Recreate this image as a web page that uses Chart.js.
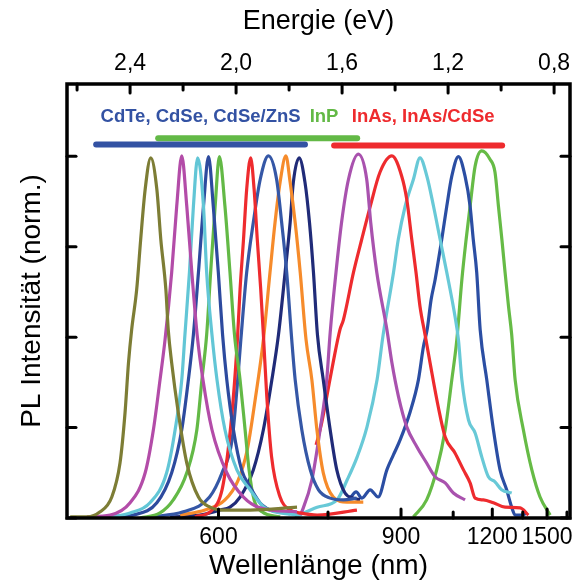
<!DOCTYPE html>
<html>
<head>
<meta charset="utf-8">
<script src="https://cdn.jsdelivr.net/npm/chart.js@4.4.1/dist/chart.umd.min.js"></script>
<style>
  html, body { margin: 0; padding: 0; background: #fff; }
  canvas { display: block; }
</style>
</head>
<body>
<canvas id="plChart" width="576" height="583"></canvas>
<script>
// hc in eV*nm, used to put wavelength ticks on the energy axis
const HC = 1239.84;

// axis ticks
const nmTicks = [600, 750, 900, 1050, 1200, 1350, 1500, 1650];
const nmLabels = [600, 900, 1200, 1500];
const evTicks = [2.6, 2.4, 2.2, 2.0, 1.8, 1.6, 1.4, 1.2, 1.0, 0.8];
const evLabels = [2.4, 2.0, 1.6, 1.2, 0.8];
const yTicks = [0, 0.25, 0.5, 0.75, 1.0];

// spectra: photon energy (eV) / normalised PL intensity
const oliveE = [2.626,2.563,2.513,2.469,2.438,2.419,2.406,2.394,2.375,2.360,2.343,2.322,2.299,2.284,2.265,2.256,2.243,2.218,2.186,2.142,2.098,2.049,1.947,1.770];
const oliveI = [0.003,0.003,0.017,0.058,0.152,0.291,0.429,0.521,0.632,0.770,0.909,0.996,0.909,0.770,0.632,0.521,0.429,0.291,0.152,0.058,0.030,0.022,0.022,0.030];

const magentaE = [2.563,2.475,2.400,2.343,2.312,2.287,2.268,2.243,2.224,2.205,2.186,2.167,2.147,2.125,2.091,2.035,1.972,1.909,1.770];
const magentaI = [0.003,0.008,0.042,0.125,0.244,0.382,0.493,0.679,0.862,1.001,0.862,0.679,0.507,0.382,0.244,0.125,0.058,0.028,0.017];

const cyanE = [2.475,2.400,2.325,2.262,2.230,2.205,2.193,2.176,2.161,2.145,2.123,2.111,2.091,2.072,2.042,1.997,1.947,1.891,1.770];
const cyanI = [0.003,0.014,0.042,0.125,0.244,0.382,0.507,0.679,0.862,0.996,0.862,0.679,0.507,0.382,0.244,0.133,0.078,0.028,0.008];

const blueE = [2.492,2.389,2.299,2.243,2.205,2.180,2.161,2.142,2.123,2.104,2.086,2.067,2.051,2.035,2.010,1.979,1.947,1.902,1.796];
const blueI = [0.000,0.008,0.042,0.125,0.244,0.382,0.507,0.679,0.862,0.999,0.862,0.679,0.507,0.382,0.244,0.133,0.086,0.036,0.011];

const greenE = [2.362,2.287,2.237,2.186,2.148,2.129,2.111,2.096,2.079,2.063,2.042,2.023,2.006,1.985,1.966,1.951,1.932,1.902,1.834];
const greenI = [0.000,0.014,0.050,0.125,0.244,0.382,0.507,0.679,0.862,0.999,0.862,0.679,0.507,0.382,0.244,0.133,0.050,0.017,0.003];

const redE = [2.155,2.090,2.053,2.030,2.011,1.995,1.985,1.972,1.960,1.945,1.932,1.920,1.907,1.897,1.884,1.866,1.834,1.796,1.758,1.694,1.544];
const redI = [0.003,0.022,0.078,0.188,0.327,0.493,0.632,0.770,0.909,0.996,0.909,0.770,0.632,0.507,0.335,0.169,0.058,0.022,0.014,0.008,0.022];

const blue2E = [2.325,2.199,2.100,2.053,2.015,1.996,1.982,1.960,1.935,1.909,1.878,1.847,1.828,1.809,1.790,1.777,1.752,1.720,1.689,1.645,1.595,1.545];
const blue2I = [0.003,0.017,0.058,0.125,0.216,0.363,0.493,0.679,0.817,0.936,1.001,0.936,0.817,0.679,0.493,0.382,0.244,0.133,0.078,0.055,0.050,0.055];

const orangeE = [2.211,2.117,2.042,1.992,1.958,1.928,1.897,1.872,1.853,1.834,1.812,1.796,1.777,1.758,1.736,1.714,1.695,1.671,1.633,1.582,1.520];
const orangeI = [0.008,0.022,0.050,0.105,0.188,0.327,0.493,0.679,0.817,0.928,1.001,0.928,0.817,0.679,0.493,0.382,0.244,0.125,0.058,0.044,0.044];

const navyE = [2.249,2.136,2.060,2.023,1.985,1.935,1.897,1.865,1.840,1.815,1.796,1.784,1.762,1.740,1.723,1.708,1.693,1.671,1.645,1.620,1.589,1.557,1.532];
const navyI = [0.003,0.008,0.022,0.030,0.058,0.133,0.244,0.382,0.507,0.679,0.817,0.928,0.996,0.928,0.817,0.679,0.507,0.382,0.244,0.133,0.069,0.055,0.050];

const magenta2E = [1.758,1.752,1.714,1.683,1.658,1.645,1.623,1.602,1.576,1.539,1.507,1.492,1.469,1.431,1.412,1.387,1.356,1.318,1.281,1.249,1.211,1.180,1.136];
const magenta2I = [0.008,0.017,0.105,0.244,0.382,0.512,0.679,0.817,0.936,1.006,0.936,0.817,0.679,0.521,0.429,0.335,0.252,0.197,0.152,0.114,0.097,0.069,0.050];

const inasE = [1.698,1.677,1.658,1.634,1.608,1.595,1.557,1.526,1.494,1.457,1.412,1.375,1.356,1.337,1.321,1.306,1.287,1.268,1.237,1.211,1.174,1.142,1.117,1.098,1.067,1.029,0.985,0.928,0.897];
const inasI = [0.202,0.263,0.335,0.429,0.521,0.548,0.679,0.770,0.861,0.956,1.001,0.945,0.881,0.770,0.679,0.585,0.507,0.429,0.307,0.224,0.180,0.133,0.097,0.055,0.050,0.042,0.030,0.028,0.008];

const cyan2E = [1.777,1.694,1.619,1.581,1.543,1.506,1.468,1.445,1.406,1.388,1.362,1.331,1.306,1.280,1.255,1.230,1.205,1.174,1.161,1.148,1.123,1.098,1.073,1.048,1.023,0.998,0.960];
const cyan2I = [0.003,0.030,0.050,0.105,0.169,0.252,0.382,0.507,0.679,0.770,0.862,0.936,0.996,0.945,0.862,0.770,0.679,0.558,0.493,0.382,0.271,0.235,0.169,0.114,0.100,0.078,0.069];

const blue3E = [1.570,1.547,1.525,1.494,1.464,1.431,1.406,1.381,1.343,1.312,1.293,1.279,1.264,1.249,1.224,1.205,1.186,1.161,1.136,1.117,1.105,1.092,1.079,1.054,1.029,1.004,0.979,0.960,0.947,0.922,0.903];
const blue3I = [0.055,0.072,0.055,0.078,0.058,0.133,0.175,0.216,0.294,0.382,0.474,0.521,0.604,0.659,0.770,0.862,0.945,0.999,0.945,0.862,0.770,0.679,0.521,0.382,0.244,0.133,0.078,0.030,0.008,0.008,0.014];

const green2E = [1.331,1.281,1.243,1.211,1.186,1.167,1.148,1.132,1.117,1.098,1.073,1.042,1.023,1.010,0.997,0.985,0.972,0.960,0.947,0.916,0.884,0.853,0.815];
const green2I = [0.003,0.050,0.133,0.244,0.382,0.493,0.659,0.770,0.862,0.973,1.015,0.992,0.956,0.862,0.770,0.679,0.585,0.507,0.382,0.244,0.133,0.058,0.008];

// material groups: caption + energy range bar
const groupNames = ["CdTe, CdSe, CdSe/ZnS", "InP", "InAs, InAs/CdSe"];
const groupFromE = [2.528, 2.294, 1.630];
const groupToE = [1.740, 1.543, 0.996];

// where captions / bars sit (data units)
const barLevel = [1.033, 1.050, 1.030];
const captionE = [2.134, 1.668, 1.294];
const captionI = 1.108;
const groupColors = ["#3352a3", "#63b946", "#ee2b2e"];

const curves = [
    { E: oliveE, I: oliveI, color: "#7d7d35" },
    { E: magentaE, I: magentaI, color: "#b34ca8" },
    { E: cyanE, I: cyanI, color: "#62c6d6" },
    { E: blueE, I: blueI, color: "#2d4a9e" },
    { E: greenE, I: greenI, color: "#63b946" },
    { E: redE, I: redI, color: "#ee2b2e" },
    { E: blue2E, I: blue2I, color: "#3557a6" },
    { E: orangeE, I: orangeI, color: "#f68b2b" },
    { E: navyE, I: navyI, color: "#202b78" },
    { E: magenta2E, I: magenta2I, color: "#a952ae" },
    { E: inasE, I: inasI, color: "#ee2b2e" },
    { E: cyan2E, I: cyan2I, color: "#68c9d7" },
    { E: blue3E, I: blue3I, color: "#2b4ea3" },
    { E: green2E, I: green2I, color: "#66bb46" }
];

const E_MIN = 0.74, E_MAX = 2.638;
const FONT = "'Liberation Sans', Arial, sans-serif";
Chart.defaults.font.family = FONT;
Chart.defaults.color = "#000";

const datasets = [];

// bars first so they end up drawn on top (blue/red over green)
[0, 2, 1].forEach(i => {
    datasets.push({
        data: [{ x: groupFromE[i], y: barLevel[i] }, { x: groupToE[i], y: barLevel[i] }],
        borderColor: groupColors[i],
        borderWidth: 6,
        borderCapStyle: "round",
        pointRadius: 0,
        tension: 0
    });
});

curves.forEach(c => {
    datasets.push({
        data: c.E.map((e, k) => ({ x: e, y: c.I[k] })),
        borderColor: c.color,
        borderWidth: 3.2,
        pointRadius: 0,
        cubicInterpolationMode: "monotone",
        fill: false
    });
});

// frame + inward ticks + group captions
const framePlugin = {
    id: "frame",
    afterDatasetsDraw(chart) {
        const { ctx, scales } = chart;
        ctx.save();
        ctx.font = "bold 18.5px " + FONT;
        ctx.textAlign = "center";
        ctx.textBaseline = "middle";
        groupNames.forEach((t, i) => {
            ctx.fillStyle = groupColors[i];
            ctx.fillText(t, scales.x.getPixelForValue(captionE[i]), scales.y.getPixelForValue(captionI));
        });
        ctx.restore();
    },
    afterDraw(chart) {
        const { ctx, chartArea: a, scales } = chart;
        ctx.save();
        ctx.strokeStyle = "#000";
        ctx.lineWidth = 3;
        ctx.lineCap = "round";

        function seg(x1, y1, x2, y2) {
            ctx.beginPath();
            ctx.moveTo(x1, y1);
            ctx.lineTo(x2, y2);
            ctx.stroke();
        }

        scales.x.ticks.forEach(t => {
            const px = scales.x.getPixelForValue(t.value);
            const len = t.label ? 9 : 6;
            seg(px, a.bottom, px, a.bottom - len);
        });
        scales.x2.ticks.forEach(t => {
            const px = scales.x2.getPixelForValue(t.value);
            const len = t.label ? 9 : 6;
            seg(px, a.top, px, a.top + len);
        });
        scales.y.ticks.forEach(t => {
            const py = scales.y.getPixelForValue(t.value);
            seg(a.left, py, a.left + 9, py);
            seg(a.right, py, a.right - 9, py);
        });

        ctx.lineWidth = 3.5;
        ctx.lineCap = "butt";
        ctx.strokeRect(a.left, a.top, a.right - a.left, a.bottom - a.top);
        ctx.restore();
    }
};

const ctx = document.getElementById("plChart").getContext("2d");

new Chart(ctx, {
    type: "line",
    data: { datasets: datasets },
    plugins: [framePlugin],
    options: {
        responsive: false,
        animation: false,
        layout: { padding: { left: 0, right: 6, top: 0, bottom: 0 } },
        plugins: {
            legend: { display: false },
            tooltip: { enabled: false }
        },
        scales: {
            x: {
                type: "linear",
                position: "bottom",
                min: E_MIN,
                max: E_MAX,
                reverse: true,
                grid: { display: false, drawTicks: false },
                border: { display: false },
                afterBuildTicks: s => { s.ticks = nmTicks.map(n => ({ value: HC / n })); },
                afterFit: s => { s.height = 65; s.paddingLeft = 0; s.paddingRight = 0; },
                ticks: {
                    autoSkip: false,
                    maxRotation: 0,
                    padding: 6,
                    font: { size: 23 },
                    callback: v => {
                        const n = Math.round(HC / v);
                        return nmLabels.includes(n) ? String(n) : "";
                    }
                },
                title: {
                    display: true,
                    text: "Wellenlänge (nm)",
                    font: { size: 28 },
                    padding: { top: 0, bottom: 0 }
                }
            },
            x2: {
                type: "linear",
                position: "top",
                min: E_MIN,
                max: E_MAX,
                reverse: true,
                grid: { display: false, drawTicks: false },
                border: { display: false },
                afterBuildTicks: s => { s.ticks = evTicks.map(e => ({ value: e })); },
                afterFit: s => { s.height = 84; s.paddingLeft = 0; s.paddingRight = 0; },
                ticks: {
                    autoSkip: false,
                    maxRotation: 0,
                    padding: 7,
                    font: { size: 23 },
                    callback: v => {
                        const hit = evLabels.some(e => Math.abs(e - v) < 1e-6);
                        return hit ? v.toFixed(1).replace(".", ",") : "";
                    }
                },
                title: {
                    display: true,
                    text: "Energie (eV)",
                    font: { size: 27 },
                    padding: { top: 5, bottom: 0 }
                }
            },
            y: {
                type: "linear",
                min: 0,
                max: 1.2,
                grid: { display: false, drawTicks: false },
                border: { display: false },
                afterBuildTicks: s => { s.ticks = yTicks.map(v => ({ value: v })); },
                afterFit: s => { s.width = 67; s.paddingTop = 0; s.paddingBottom = 0; },
                ticks: { display: false },
                title: {
                    display: true,
                    text: "PL Intensität (norm.)",
                    font: { size: 28 },
                    padding: { top: 15, bottom: 0 }
                }
            }
        }
    }
});
</script>
</body>
</html>
